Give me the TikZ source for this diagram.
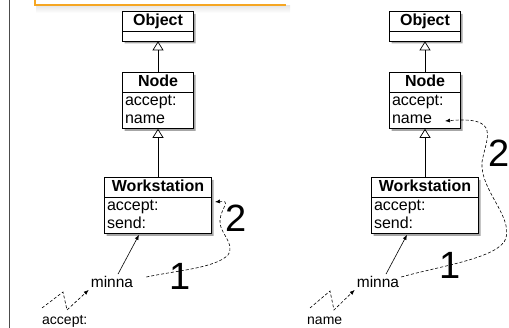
\documentclass[tikz,border=0pt]{standalone}
\usepackage{fontspec}
\setmainfont{Liberation Sans}
\usetikzlibrary{shapes.multipart,shadows,arrows.meta,positioning,calc}

\definecolor{slideorange}{RGB}{245,166,35}
\newcommand{\headstrut}{\rule[-3.3pt]{0pt}{12pt}}
\newcommand{\rowstrut}{\rule[-2.5pt]{0pt}{14pt}}
\newcommand{\classname}[1]{\hbox to \hsize{\hss\bfseries\headstrut #1\hss}}

\tikzset{
  umlclass/.style={rectangle split, rectangle split parts=2, draw, line width=0.8pt, fill=white,
    inner xsep=2.5pt, inner ysep=2pt, align=left, font=\fontsize{16}{17.5}\selectfont,
    drop shadow={shadow xshift=2pt, shadow yshift=-2.5pt, opacity=0.35, fill=black}},
  inherit/.style={-{Triangle[open,length=9pt,width=11pt]}, line width=0.7pt},
  send/.style={-{Latex[length=5pt,width=4pt]}, line width=0.6pt},
  msg/.style={send, dash pattern=on 3pt off 2pt},
  bignum/.style={font=\fontsize{38}{40}\selectfont, inner sep=0pt},
  objlabel/.style={font=\fontsize{15.5}{18}\selectfont, inner sep=2pt},
  sellabel/.style={font=\fontsize{14}{16}\selectfont, inner sep=0pt}
}

\begin{document}
\begin{tikzpicture}[x=1pt,y=-1pt]

\useasboundingbox (0,0) rectangle (509,328);

%\draw[help lines] (0,0) grid[step=20] (509,328);

% slide frame
\draw[black!70, line width=0.8pt] (9,0) -- (9,328);
\shade[top color=black!10, bottom color=white] (36,5.5) rectangle (290,13);
\draw[slideorange, line width=1.2pt] (35,0) -- (35,5) -- (286,5);


% left: accept: sent to minna
\node[umlclass, text width=66pt, anchor=north] (objectL) at (158,11)
  {\classname{Object}\nodepart{two}\rule{0pt}{5pt}};
\node[umlclass, text width=66pt, anchor=north] (nodeL) at (158,72)
  {\classname{Node}\nodepart{two}\rowstrut accept:\\\rowstrut name};
\node[umlclass, text width=102pt, anchor=north] (wsL) at (158,177)
  {\classname{Workstation}\nodepart{two}\rowstrut accept:\\\rowstrut send:};

\draw[inherit] (nodeL.north) -- (objectL.south);
\draw[inherit] (wsL.north) -- (nodeL.south);

\node[objlabel] (minnaL) at (112,282) {minna};
\node[sellabel, anchor=base west] (acceptL) at (42,325) {accept:};
\draw[send] ($(minnaL.north)+(6,0)$) -- ($(wsL.south)+(-19,1)$);

\coordinate (zigL) at (42,308);
\draw[msg] (zigL) -- (63,292) -- (67,310) -- (minnaL.south west);

\coordinate (tipL) at (215,202);
\draw[msg] ($(minnaL.east)+(11,-5)$) .. controls (180,270) and (215,268) .. (228,255)
  .. controls (236,243) and (218,232) .. (220,220) .. controls (221,208) and (232,200) .. (tipL);

\node[bignum] (oneL) at (180,276) {1};
\node[bignum] (twoL) at (236,218) {2};


% right: name sent to minna
\node[umlclass, text width=66pt, anchor=north] (objectR) at (425,11)
  {\classname{Object}\nodepart{two}\rule{0pt}{5pt}};
\node[umlclass, text width=66pt, anchor=north] (nodeR) at (425,72)
  {\classname{Node}\nodepart{two}\rowstrut accept:\\\rowstrut name};
\node[umlclass, text width=102pt, anchor=north] (wsR) at (425,177)
  {\classname{Workstation}\nodepart{two}\rowstrut accept:\\\rowstrut send:};

\draw[inherit] (nodeR.north) -- (objectR.south);
\draw[inherit] (wsR.north) -- (nodeR.south);

\node[objlabel] (minnaR) at (378,282) {minna};
\node[sellabel, anchor=base west] (nameR) at (307,325) {name};
\draw[send] ($(minnaR.north)+(8,0)$) -- ($(wsR.south)+(-18,1)$);

\coordinate (zigR) at (310,308);
\draw[msg] (zigR) -- (330,291) -- (334,310) -- (minnaR.south west);

\coordinate (tipR) at (445,121);
\draw[msg] ($(minnaR.east)+(0,-5)$) .. controls (440,266) and (500,258) .. (506,238)
  .. controls (512,215) and (480,190) .. (482,162) .. controls (486,138) and (502,116) .. (tipR);

\node[bignum] (oneR) at (450,265) {1};
\node[bignum] (twoR) at (499,153) {2};

\end{tikzpicture}
\end{document}
